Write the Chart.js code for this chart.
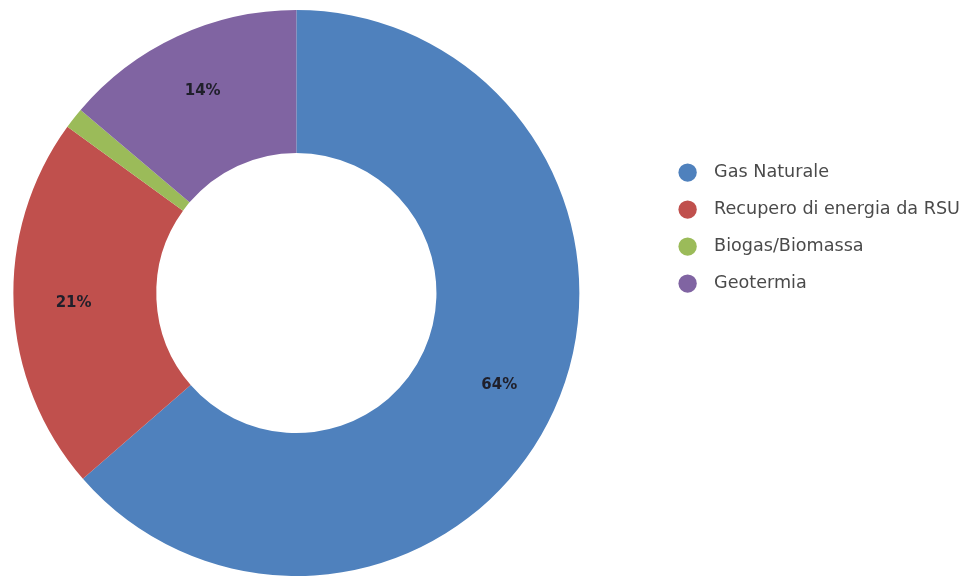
<!DOCTYPE html>
<html>
<head>
<meta charset="utf-8">
<script src="https://cdn.jsdelivr.net/npm/chart.js@4/dist/chart.umd.min.js"></script>
<style>
html, body { margin: 0; padding: 0; background: #fff; overflow: hidden; }
#wrap { position: absolute; left: -69px; top: 0; width: 1039px; height: 576px; }
</style>
</head>
<body>
<div id="wrap"><canvas id="chart"></canvas></div>
<script>
// ================= DATA =================
const labels = ["Gas Naturale", "Recupero di energia da RSU", "Biogas/Biomassa", "Geotermia"];
const shares = [63.6, 21.4, 1.2, 13.8];
const colors = ["#4F81BD", "#C0504D", "#9BBB59", "#8064A2"];

// ================= PERCENT LABELS =================
const percentLabels = {
  id: "percentLabels",
  afterDatasetsDraw(chart) {
    const ctx = chart.ctx;
    const meta = chart.getDatasetMeta(0);
    const total = shares.reduce((a, b) => a + b, 0);
    ctx.save();
    ctx.font = "bold 15px 'DejaVu Sans'";
    ctx.fillStyle = "#1f1f2a";
    ctx.textAlign = "center";
    ctx.textBaseline = "middle";
    meta.data.forEach((arc, i) => {
      const pct = shares[i] / total * 100;
      if (pct < 3) return;
      const p = arc.getProps(["x", "y", "startAngle", "endAngle", "innerRadius", "outerRadius"], true);
      const a = (p.startAngle + p.endAngle) / 2;
      const r = p.innerRadius + (p.outerRadius - p.innerRadius) * 0.58;
      ctx.fillText(Math.round(pct) + "%", p.x + Math.cos(a) * r, p.y + Math.sin(a) * r);
    });
    ctx.restore();
  }
};

// ================= CHART =================
const baseLabels = Chart.overrides.doughnut.plugins.legend.labels.generateLabels;

new Chart(document.getElementById("chart"), {
  type: "doughnut",
  data: {
    labels: labels,
    datasets: [{
      data: shares,
      backgroundColor: colors,
      borderWidth: 0
    }]
  },
  options: {
    responsive: true,
    maintainAspectRatio: false,
    animation: false,
    cutout: "49.5%",
    layout: { padding: { top: 10, bottom: 0, left: 0, right: 0 } },
    plugins: {
      tooltip: { enabled: false },
      legend: {
        position: "right",
        align: "start",
        title: { display: true, text: " ", font: { size: 12 }, padding: { top: 120, bottom: 0 } },
        labels: {
          usePointStyle: true,
          pointStyle: "circle",
          boxWidth: 13,
          boxHeight: 13,
          padding: 19.4,
          color: "#4a4a4a",
          font: { family: "'DejaVu Sans'", size: 17.6 },
          generateLabels: chart => baseLabels(chart).map(l => ({ ...l, text: "  " + l.text }))
        }
      }
    }
  },
  plugins: [percentLabels]
});
</script>
</body>
</html>
